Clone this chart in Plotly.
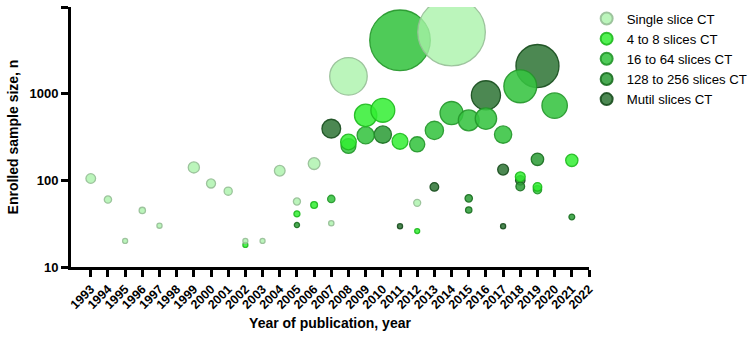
import plotly.graph_objects as go

# ---- data ----
single_years = [1993, 1994, 1995, 1996, 1997, 1999, 2000, 2001, 2002, 2003, 2004, 2005, 2006, 2007, 2008, 2012, 2014]
single_n = [105, 60, 20, 45, 30, 141, 92, 75, 20, 20, 129, 57, 156, 32, 1585, 55, 5140]

s4to8_years = [2002, 2005, 2006, 2008, 2009, 2010, 2011, 2012, 2018, 2019, 2021]
s4to8_n = [18, 41, 52, 277, 562, 643, 282, 26, 110, 84, 170]

s16to64_years = [2007, 2008, 2009, 2011, 2012, 2013, 2014, 2015, 2016, 2017, 2018, 2019, 2020]
s16to64_n = [61, 249, 331, 4130, 260, 377, 598, 492, 516, 337, 1216, 78, 728]

s128to256_years = [2005, 2010, 2015, 2015, 2018, 2019, 2021]
s128to256_n = [30.5, 337, 62, 45.5, 85, 175, 37.8]

mutil_years = [2007, 2011, 2013, 2016, 2017, 2017, 2018, 2019]
mutil_n = [395, 29.5, 84, 957, 133, 29.5, 100, 2085]

year_ticks = list(range(1993, 2023))
y_ticks = [10, 100, 1000, 10000]
y_tick_text = ["10", "100", "1000", "10000"]

series = [
    ("Single slice CT", single_years, single_n, "rgba(168,242,168,0.78)", "rgba(150,190,150,0.9)"),
    ("4 to 8 slices CT", s4to8_years, s4to8_n, "rgba(50,238,50,0.85)", "rgba(30,185,30,0.9)"),
    ("16 to 64 slices CT", s16to64_years, s16to64_n, "rgba(55,196,65,0.88)", "rgba(35,150,42,0.9)"),
    ("128 to 256 slices CT", s128to256_years, s128to256_n, "rgba(48,158,58,0.88)", "rgba(25,110,32,0.9)"),
    ("Mutil slices CT", mutil_years, mutil_n, "rgba(45,115,52,0.85)", "rgba(22,75,28,0.9)"),
]

FONT = "Liberation Sans, Arial, sans-serif"
fig = go.Figure()
for name, xs, ys, fill, line in reversed(series):
    fig.add_trace(go.Scatter(
        x=xs, y=ys, mode="markers", name=name,
        marker=dict(size=ys, sizemode="area", sizeref=2.25, sizemin=2.5, opacity=1,
                    color=fill, line=dict(color=line, width=1.3)),
        cliponaxis=True,
    ))

fig.update_layout(
    width=756, height=340,
    margin=dict(l=71, r=167, t=7, b=73, autoexpand=False),
    plot_bgcolor="white", paper_bgcolor="white",
    font=dict(family=FONT, color="black"),
    showlegend=True,
    legend=dict(traceorder="reversed", itemsizing="constant",
                xref="container", yref="container", x=0.776, y=0.99,
                xanchor="left", yanchor="top",
                font=dict(size=13.2, family=FONT, color="black"),
                tracegroupgap=0, bgcolor="rgba(0,0,0,0)"),
)
fig.update_xaxes(
    range=[1991.85, 2022], tickvals=year_ticks, ticktext=[str(y) for y in year_ticks],
    tickangle=-45, tickfont=dict(size=12.5, family=FONT, weight="bold"),
    showline=True, linewidth=3, linecolor="black", ticks="outside", ticklen=7, tickwidth=2.5,
    tickcolor="black", showgrid=False, zeroline=False, automargin=False,
    title=dict(text="Year of publication, year", font=dict(size=14, family=FONT, weight="bold"), standoff=8),
)
fig.update_yaxes(
    type="log", range=[1, 4], tickvals=y_ticks, ticktext=y_tick_text,
    tickfont=dict(size=13, family=FONT, weight="bold"),
    showline=True, linewidth=3, linecolor="black", ticks="outside", ticklen=7, tickwidth=2.5,
    tickcolor="black", showgrid=False, zeroline=False, automargin=False,
    title=dict(text="Enrolled sample size, n", font=dict(size=14, family=FONT, weight="bold"), standoff=8),
)

fig.write_html("out.html", config={"displayModeBar": False},
               post_script="document.body.style.margin='0';")
